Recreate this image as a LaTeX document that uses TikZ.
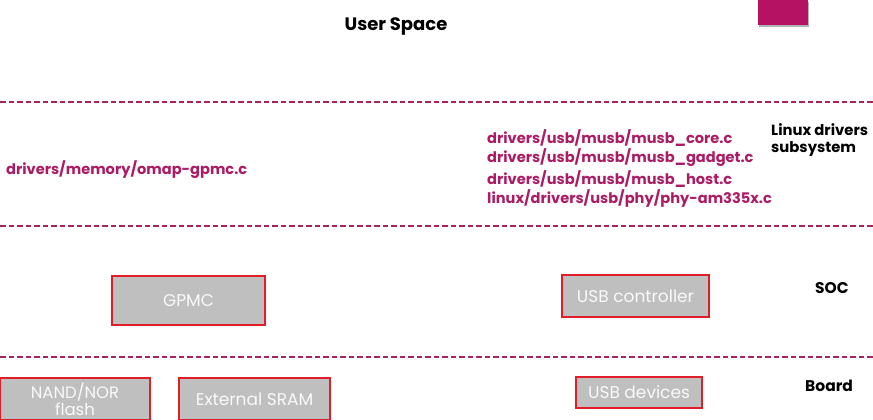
\documentclass[tikz,border=0pt]{standalone}
\usepackage{fontspec}
\setmainfont{Poppins}
\definecolor{mag}{RGB}{172,28,100}
\definecolor{sqmag}{RGB}{181,18,99}
\definecolor{dashmag}{RGB}{165,35,95}
\definecolor{boxgray}{RGB}{191,191,191}
\definecolor{boxred}{RGB}{225,30,40}
\begin{document}
\begin{tikzpicture}[x=1pt,y=-1pt,
  lbl/.style={font=\fontsize{15.5}{18}\selectfont\bfseries, inner sep=0pt},
  path/.style={font=\fontsize{14.6}{20}\selectfont\bfseries, text=mag, inner sep=0pt, anchor=west},
  hwbox/.style={draw=boxred, line width=1.2pt, fill=boxgray, text=white!95!gray, font=\fontsize{17}{18}\selectfont, inner sep=0pt, align=center},
  sep/.style={draw=dashmag, line width=1.5pt, dash pattern=on 5.5pt off 3pt}]
\useasboundingbox (0,0) rectangle (873,420);
\fill[black!30] (759,2) rectangle (809,27);
\fill[sqmag] (758,0) rectangle (808,25);
\node[lbl, font=\fontsize{18}{20}\selectfont\bfseries] (us) at (396,26) {User Space};
\coordinate (l1a) at (0,102); \coordinate (l1b) at (873,102);
\coordinate (l2a) at (0,226); \coordinate (l2b) at (873,226);
\coordinate (l3a) at (0,357); \coordinate (l3b) at (873,357);
\draw[sep] (l1a) -- (l1b);
\draw[sep] (l2a) -- (l2b);
\draw[sep] (l3a) -- (l3b);
\node[path] (gp) at (6,170) {drivers/memory/omap-gpmc.c};
\node[path] (u1) at (487,138) {drivers/usb/musb/musb\_core.c};
\node[path] (u2) at (487,158) {drivers/usb/musb/musb\_gadget.c};
\node[path] (u3) at (487,179) {drivers/usb/musb/musb\_host.c};
\node[path] (u4) at (487,199) {linux/drivers/usb/phy/phy-am335x.c};
\node[lbl, anchor=west, font=\fontsize{14.8}{18}\selectfont\bfseries] (ld1) at (771,130) {Linux drivers};
\node[lbl, anchor=west, font=\fontsize{14.8}{18}\selectfont\bfseries] (ld2) at (771,149) {subsystem};
\node[hwbox, minimum width=153pt, minimum height=49pt] (gpmc) at (188.5,300.5) {GPMC};
\node[hwbox, minimum width=147pt, minimum height=42pt] (usbc) at (635.5,296) {USB controller};
\node[lbl, anchor=west] (soc) at (815,288) {SOC};
\node[hwbox, minimum width=150pt, minimum height=42pt, font=\fontsize{16.5}{17}\selectfont] (nand) at (75,399) {NAND/NOR\\flash};
\node[hwbox, minimum width=151pt, minimum height=42pt] (sram) at (254.5,399) {External SRAM};
\node[hwbox, minimum width=126pt, minimum height=31pt] (usbd) at (639,392.5) {USB devices};
\node[lbl, anchor=west] (board) at (805,386) {Board};
\end{tikzpicture}
\end{document}
